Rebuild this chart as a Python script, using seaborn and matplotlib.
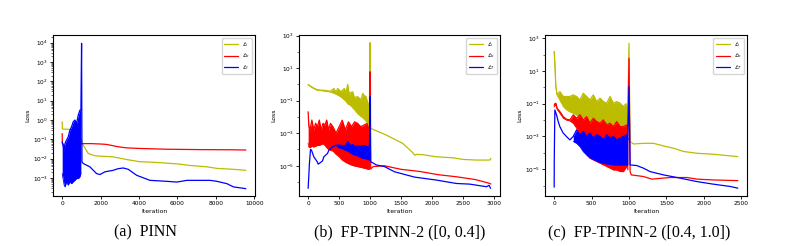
import numpy as np
import matplotlib
matplotlib.use("Agg")
import matplotlib.pyplot as plt
import seaborn as sns
from matplotlib.ticker import FixedLocator, NullFormatter

# ---------------- data (log10 of loss) ----------------
# (a) PINN
pinn_i_x = [0, 10, 60, 300, 540, 800, 1000, 1096, 1357, 1704, 2000, 2600, 2900, 3400,
            4000, 5000, 6000, 6660, 7530, 8050, 8920, 9560]
pinn_i_log10 = [-0.09, -0.45, -0.47, -0.48, -0.50, -0.60, -1.00, -1.30, -1.73, -1.85, -1.87,
                -1.90, -1.95, -2.05, -2.15, -2.20, -2.27, -2.35, -2.42, -2.50, -2.55, -2.60]
pinn_b_x = [0, 10, 60, 150, 230, 300, 500, 800, 1020, 1500, 2000, 2300, 2660, 2900, 3350,
            4050, 5440, 7180, 8920, 9560]
pinn_b_log10 = [-0.70, -1.20, -1.25, -1.35, -1.39, -1.30, -1.28, -1.25, -1.22, -1.22, -1.24,
                -1.26, -1.33, -1.38, -1.44, -1.47, -1.51, -1.53, -1.54, -1.55]
pinn_f_band_x = [0, 104, 150, 226, 313, 400, 487, 574, 661, 748, 835, 922, 974]
pinn_f_band_hi = [-1.13, -1.56, -1.20, -1.04, -0.87, -0.53, -0.35, -0.09, 0.00, -0.18, 0.25, 0.51, 0.51]
pinn_f_band_lo = [-2.77, -3.37, -3.46, -3.20, -3.37, -3.20, -3.29, -3.20, -3.12, -3.03, -3.03, -2.94, -2.77]
pinn_f_x = [1010, 1030, 1100, 1440, 1790, 1965, 2225, 2660, 2900, 3180, 3440, 3880, 4570,
            5440, 5970, 6490, 7180, 7700, 8050, 8570, 8920, 9560]
pinn_f_log10 = [3.97, -2.17, -2.25, -2.42, -2.77, -2.82, -2.68, -2.60, -2.52, -2.48, -2.55,
                -2.86, -3.12, -3.17, -3.21, -3.12, -3.12, -3.12, -3.17, -3.29, -3.46, -3.55]

# (b) FP-TPINN-2 ([0, 0.4])
b_i_band_x = [0, 65, 146, 281, 362, 416, 450, 476, 530, 584, 611, 638, 665, 686, 719, 746,
              800, 854, 881, 908, 935, 973, 990]
b_i_band_hi = [0.00, -0.17, -0.33, -0.37, -0.42, -0.25, -0.48, -0.25, -0.45, -0.25, -0.50,
               0.00, -0.65, -0.50, -0.45, -0.80, -0.75, -0.95, -0.55, -0.70, -0.75, -1.30, -1.10]
b_i_band_lo = [-0.03, -0.20, -0.36, -0.41, -0.47, -0.55, -0.60, -0.65, -0.78, -0.95, -1.05,
               -1.20, -1.25, -1.30, -1.45, -1.55, -1.80, -1.98, -2.05, -2.15, -2.28, -2.45, -2.50]
b_i_x = [1000, 1010, 1260, 1530, 1690, 1720, 1746, 1850, 2070, 2340, 2500, 2720, 2935, 2950]
b_i_log10 = [2.57, -2.70, -3.11, -3.63, -4.20, -4.35, -4.30, -4.32, -4.45, -4.51, -4.61,
             -4.65, -4.65, -4.55]
b_b_band_x = [0, 10, 30, 60, 90, 120, 150, 180, 210, 240, 270, 300, 330, 360, 400, 450,
              500, 550, 600, 650, 700, 750, 800, 850, 900, 950, 990]
b_b_band_hi = [-1.68, -2.50, -2.81, -2.19, -2.81, -2.39, -2.60, -2.19, -2.81, -2.39, -2.50,
               -2.19, -2.81, -2.39, -2.60, -3.00, -2.60, -2.20, -2.80, -2.30, -2.60, -2.30,
               -2.40, -2.60, -2.50, -2.40, -2.80]
b_b_band_lo = [-3.60, -3.85, -3.90, -3.80, -3.85, -3.80, -3.75, -3.75, -3.70, -3.65, -3.75,
               -3.90, -4.00, -4.05, -4.10, -4.30, -4.45, -4.65, -4.78, -4.88, -4.96, -5.02,
               -5.06, -5.10, -5.15, -5.20, -5.23]
b_b_x = [1000, 1010, 1050, 1230, 1500, 1800, 2100, 2400, 2700, 2900, 2950]
b_b_log10 = [0.78, -5.20, -5.05, -5.00, -5.22, -5.35, -5.55, -5.68, -5.85, -6.05, -6.12]
b_f_pre_x = [0, 10, 20, 38, 54, 92, 146, 162, 200, 232, 254, 313, 335, 395, 416]
b_f_pre_log10 = [-6.39, -5.70, -4.90, -4.00, -4.04, -4.45, -4.75, -4.90, -4.80, -4.70,
                 -4.45, -4.24, -4.04, -3.83, -3.80]
b_f_band_x = [449, 500, 550, 600, 640, 680, 720, 760, 800, 850, 900, 950, 990]
b_f_band_hi = [-3.73, -3.73, -3.75, -3.78, -3.50, -3.75, -3.70, -3.80, -3.78, -3.80, -3.75, -3.83, -3.80]
b_f_band_lo = [-3.75, -3.90, -3.95, -4.05, -4.10, -4.20, -4.30, -4.35, -4.40, -4.50, -4.55, -4.60, -4.65]
b_f_x = [1000, 1010, 1100, 1232, 1394, 1720, 2070, 2394, 2610, 2880, 2920, 2946]
b_f_log10 = [-0.75, -4.75, -4.95, -5.05, -5.37, -5.70, -5.88, -6.09, -6.13, -6.29, -6.20, -6.39]

# (c) FP-TPINN-2 ([0.4, 1.0])
c_i_band_x = [0, 9, 22, 40, 76, 121, 165, 210, 255, 300, 344, 389, 434, 478, 523, 568, 613,
              657, 702, 747, 791, 836, 881, 925, 960, 985]
c_i_band_hi = [2.19, 1.47, 0.05, -0.46, -0.26, -0.56, -0.56, -0.56, -0.46, -0.56, -0.77, -0.36,
               -0.56, -0.77, -0.46, -0.87, -0.66, -0.87, -0.97, -0.56, -0.97, -0.87, -0.97,
               -1.18, -1.00, -1.38]
c_i_band_lo = [2.19, 1.47, 0.05, -0.50, -0.80, -1.18, -1.38, -1.50, -1.58, -1.70, -1.79, -1.85,
               -1.99, -2.10, -2.19, -2.25, -2.30, -2.35, -2.40, -2.45, -2.50, -2.55, -2.60,
               -2.60, -2.62, -2.65]
c_i_x = [1000, 1015, 1060, 1194, 1328, 1462, 1597, 1731, 1910, 2133, 2357, 2455]
c_i_log10 = [2.69, -3.31, -3.46, -3.42, -3.42, -3.58, -3.72, -3.92, -4.03, -4.09, -4.19, -4.23]
c_b_band_x = [0, 9, 22, 40, 76, 121, 165, 210, 255, 300, 344, 389, 434, 478, 523, 568, 613,
              657, 702, 747, 791, 836, 881, 925, 970, 985]
c_b_band_hi = [-1.10, -1.00, -0.97, -1.28, -1.48, -1.79, -1.95, -1.99, -1.68, -1.89, -1.68,
               -1.99, -1.79, -2.19, -1.89, -2.09, -2.19, -1.99, -2.30, -2.19, -2.40, -2.09,
               -2.40, -2.40, -2.30, -2.40]
c_b_band_lo = [-1.20, -1.10, -1.05, -1.35, -1.58, -1.88, -2.00, -2.05, -2.20, -2.50, -3.01,
               -3.83, -4.13, -4.34, -4.44, -4.54, -4.64, -4.74, -4.84, -4.94, -5.05, -5.05,
               -5.15, -5.15, -4.84, -5.05]
c_b_x = [1000, 1015, 1030, 1194, 1306, 1373, 1552, 1775, 1910, 2133, 2455]
c_b_log10 = [1.78, -5.15, -5.35, -5.45, -5.61, -5.58, -5.51, -5.51, -5.61, -5.66, -5.70]
c_f_pre_x = [0, 1, 9, 31, 54, 76, 98, 121, 143, 165, 210]
c_f_pre_log10 = [-6.10, -4.43, -1.38, -1.68, -2.09, -2.40, -2.60, -2.80, -2.90, -3.01, -3.21]
c_f_band_x = [255, 300, 344, 389, 434, 478, 523, 568, 613, 657, 702, 747, 791, 836, 881,
              925, 970, 985]
c_f_band_hi = [-3.00, -2.60, -2.90, -2.70, -3.00, -2.80, -3.10, -2.90, -3.00, -3.20, -2.90,
               -3.10, -3.00, -3.20, -3.10, -3.00, -2.90, -3.20]
c_f_band_lo = [-3.31, -3.42, -3.62, -3.93, -4.13, -4.30, -4.40, -4.50, -4.60, -4.64, -4.68,
               -4.70, -4.74, -4.74, -4.74, -4.74, -4.74, -4.74]
c_f_x = [1000, 1015, 1105, 1194, 1283, 1462, 1686, 1910, 2133, 2357, 2455]
c_f_log10 = [0.05, -4.74, -4.78, -4.94, -5.15, -5.35, -5.55, -5.76, -5.92, -6.06, -6.16]

labels_a = [r"$\mathcal{L}_i$", r"$\mathcal{L}_b$", r"$\mathcal{L}_f$"]
labels_bc = [r"$\mathcal{L}_i$", r"$\mathcal{L}_b$", r"$\mathcal{L}_T$"]
captions = ["(a)  PINN", "(b)  FP-TPINN-2 ([0, 0.4])", "(c)  FP-TPINN-2 ([0.4, 1.0])"]

# ---------------- style ----------------
sns.set_style("ticks")
plt.rcParams.update({
    "axes.edgecolor": "black", "axes.linewidth": 0.8,
    "xtick.color": "black", "ytick.color": "black",
    "xtick.labelsize": 4.2, "ytick.labelsize": 4.2,
    "xtick.major.size": 2.0, "ytick.major.size": 2.0,
    "xtick.major.width": 0.6, "ytick.major.width": 0.6,
    "ytick.minor.size": 1.2, "ytick.minor.width": 0.4,
    "xtick.major.pad": 1.5, "ytick.major.pad": 1.5,
    "axes.labelsize": 4.4, "axes.labelcolor": "black", "text.color": "black",
    "axes.labelpad": 2.0,
})
plt.rcParams["font.family"] = ["DejaVu Sans"]

C_I, C_B, C_F = "#bcbc00", "red", "blue"
LW = 0.9


def L(a):
    return np.power(10.0, np.asarray(a, dtype=float))


def series(ax, color, label, line_x, line_log, band_x=None, band_hi=None, band_lo=None,
           pre_x=None, pre_log=None):
    xs, ys = [], []
    if pre_x is not None:
        xs += list(pre_x)
        ys += list(pre_log)
    if band_x is not None:
        ax.fill_between(band_x, L(band_lo), L(band_hi), color=color, lw=0, zorder=2)
        sns.lineplot(x=band_x, y=L(band_lo), ax=ax, color=color, lw=0.6,
                     estimator=None, sort=False, zorder=2)
        xs += list(band_x)
        ys += list(band_hi)
    xs += list(line_x)
    ys += list(line_log)
    sns.lineplot(x=xs, y=L(ys), ax=ax, color=color, lw=LW, estimator=None,
                 sort=False, label=label, zorder=2)


fig = plt.figure(figsize=(8.11, 2.46), dpi=100)
bottom, height = 1 - 196 / 246, 161 / 246
ax1 = fig.add_axes([53 / 811, bottom, 202 / 811, height])
ax2 = fig.add_axes([299 / 811, bottom, 201 / 811, height])
ax3 = fig.add_axes([545 / 811, bottom, 202 / 811, height])
for ax in (ax1, ax2, ax3):
    ax.set_yscale("log")

# (a)
series(ax1, C_I, labels_a[0], pinn_i_x, pinn_i_log10)
series(ax1, C_B, labels_a[1], pinn_b_x, pinn_b_log10)
series(ax1, C_F, labels_a[2], pinn_f_x, pinn_f_log10,
       pinn_f_band_x, pinn_f_band_hi, pinn_f_band_lo)
# (b)
series(ax2, C_I, labels_bc[0], b_i_x, b_i_log10, b_i_band_x, b_i_band_hi, b_i_band_lo)
series(ax2, C_B, labels_bc[1], b_b_x, b_b_log10, b_b_band_x, b_b_band_hi, b_b_band_lo)
series(ax2, C_F, labels_bc[2], b_f_x, b_f_log10, b_f_band_x, b_f_band_hi, b_f_band_lo,
       b_f_pre_x, b_f_pre_log10)
# (c)
series(ax3, C_I, labels_bc[0], c_i_x, c_i_log10, c_i_band_x, c_i_band_hi, c_i_band_lo)
series(ax3, C_B, labels_bc[1], c_b_x, c_b_log10, c_b_band_x, c_b_band_hi, c_b_band_lo)
series(ax3, C_F, labels_bc[2], c_f_x, c_f_log10, c_f_band_x, c_f_band_hi, c_f_band_lo,
       c_f_pre_x, c_f_pre_log10)

ax1.set_ylim(10 ** -3.93, 10 ** 4.4)
ax1.yaxis.set_major_locator(FixedLocator([10.0 ** k for k in range(-3, 5)]))
ax2.set_ylim(10 ** -6.86, 10 ** 3.04)
ax3.set_ylim(10 ** -6.64, 10 ** 3.2)
for ax in (ax2, ax3):
    ax.yaxis.set_major_locator(FixedLocator([1e-5, 1e-3, 1e-1, 1e1, 1e3]))
    ax.yaxis.set_minor_locator(FixedLocator([1e-6, 1e-4, 1e-2, 1e0, 1e2]))
    ax.yaxis.set_minor_formatter(NullFormatter())

for ax, labs in ((ax1, labels_a), (ax2, labels_bc), (ax3, labels_bc)):
    ax.set_xlabel("Iteration")
    ax.set_ylabel("Loss")
    h, _ = ax.get_legend_handles_labels()
    ax.legend(h, labs, loc="upper right", fontsize=3.8, handlelength=2.6,
              borderpad=0.45, labelspacing=0.5, handletextpad=0.8,
              frameon=True, edgecolor="0.8", fancybox=True, borderaxespad=0.5)
    for s in ax.spines.values():
        s.set_visible(True)

for cx, txt in zip([146, 400, 639], captions):
    fig.text(cx / 811, 1 - 232 / 246, txt, ha="center", va="center",
             fontsize=11.5, family=["Liberation Serif", "DejaVu Serif"])

fig.savefig("out.png", dpi=100)
